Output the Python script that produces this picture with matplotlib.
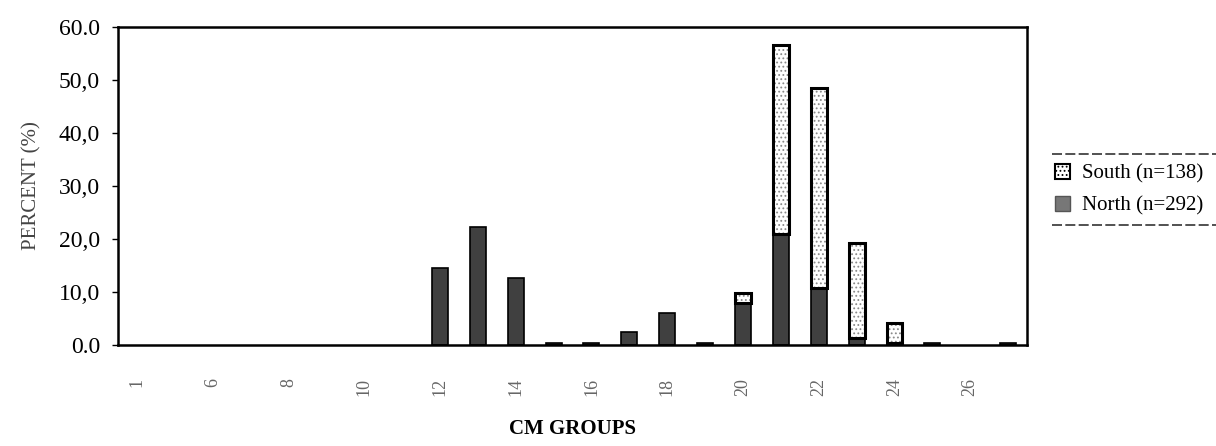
import matplotlib.pyplot as plt
from matplotlib.patches import Patch
from matplotlib.lines import Line2D

# datos (porcentaje por grupo CM)
cm_groups = ['1', '5', '6', '7', '8', '9', '10', '11', '12', '13', '14', '15',
             '16', '17', '18', '19', '20', '21', '22', '23', '24', '25', '26', '27']
north = [0, 0, 0, 0, 0, 0, 0, 0, 14.5, 22.3, 12.7, 0.4,
         0.4, 2.5, 6.0, 0.3, 7.9, 21.0, 10.8, 1.3, 0.3, 0.4, 0, 0.4]
south = [0, 0, 0, 0, 0, 0, 0, 0, 0, 0, 0, 0,
         0, 0, 0, 0, 2.0, 35.6, 37.7, 18.0, 3.9, 0, 0, 0]
tick_labels = ['1', '6', '8', '10', '12', '14', '16', '18', '20', '22', '24', '26']
y_labels = ['0.0', '10,0', '20,0', '30,0', '40,0', '50,0', '60.0']

north_label = 'North (n=292)'
south_label = 'South (n=138)'

plt.rcParams['font.family'] = ['Liberation Serif', 'DejaVu Serif']
plt.rcParams['hatch.linewidth'] = 0.8

fig = plt.figure(figsize=(12.16, 4.46), dpi=100)
ax = fig.add_axes([0.097, 0.2265, 0.7476, 0.713])

x = list(range(len(cm_groups)))
width = 0.42

# solo se dibujan los grupos con valor (los ceros no dejan marca)
xn = [i for i in x if north[i] > 0]
xs = [i for i in x if south[i] > 0]

# barras norte (abajo)
ax.bar(xn, [north[i] for i in xn], width, color='#404040', edgecolor='black',
       linewidth=1.2)

# barras sur (arriba): relleno punteado y luego el borde
ax.bar(xs, [south[i] for i in xs], width, bottom=[north[i] for i in xs],
       color='white', edgecolor='#8a8a8a', hatch='....', linewidth=0)
ax.bar(xs, [south[i] for i in xs], width, bottom=[north[i] for i in xs],
       fill=False, edgecolor='black', linewidth=2.2)

ax.set_xlim(-0.5, len(cm_groups) - 0.5)
ax.set_ylim(0, 60)

ax.set_xticks(x[::2])
ax.set_xticklabels(tick_labels, rotation=90, fontsize=13, color='#666666')
ax.tick_params(axis='x', length=0, pad=24)

ax.set_yticks(range(0, 61, 10))
ax.set_yticklabels(y_labels, fontsize=17)
ax.tick_params(axis='y', direction='out', length=4, width=1, pad=9)

for s in ax.spines.values():
    s.set_linewidth(1.8)

ax.set_xlabel('CM GROUPS', fontsize=15, fontweight='bold', labelpad=16)
ax.set_ylabel('PERCENT (%)', fontsize=15, color='#444444', labelpad=12)

# leyenda fuera del area, a la derecha
handles = [Patch(facecolor='white', edgecolor='black', hatch='....', linewidth=1.5),
           Patch(facecolor='#777777', edgecolor='#555555', linewidth=1)]
fig.legend(handles, [south_label, north_label], loc='center left',
           bbox_to_anchor=(1045 / 1216, 1 - 190 / 446), frameon=False,
           fontsize=15, handlelength=0.7, handleheight=0.7, handletextpad=0.6,
           labelspacing=0.6, borderpad=0)

# lineas discontinuas arriba y abajo de la leyenda
for yy in (154, 225):
    fig.add_artist(Line2D([1052 / 1216, 1.0], [1 - yy / 446] * 2, color='#333333',
                          linewidth=1.2, linestyle=(0, (6, 2))))

fig.savefig('out.png', dpi=100)
